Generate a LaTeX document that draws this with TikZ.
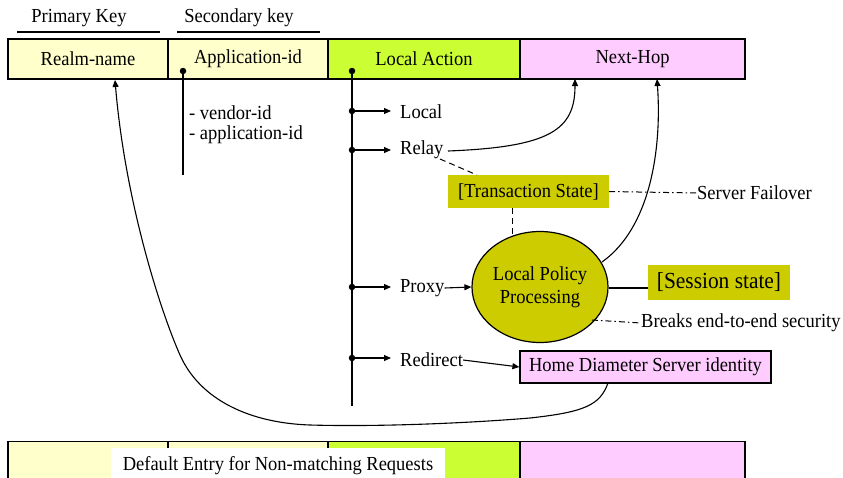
\documentclass[tikz,border=0pt]{standalone}
\usepackage{fontspec}
\setmainfont{Liberation Serif}[FakeStretch=0.93]
\usetikzlibrary{arrows.meta,shapes.geometric}
\definecolor{keyyellow}{HTML}{FFFFCC}
\definecolor{actgreen}{HTML}{CCFF33}
\definecolor{hoppink}{HTML}{FFCCFF}
\definecolor{olive}{HTML}{CCCC00}
\tikzset{
  cell/.style={draw, line width=1.3pt, minimum height=40pt, inner sep=0pt},
  lbl/.style={inner sep=0pt, anchor=west},
  conn/.style={line width=1.1pt},
  arr/.style={conn, -{Triangle[length=7pt,width=6pt]}},
  dashdot/.style={line width=1pt, dash pattern=on 6pt off 3pt on 1.5pt off 3pt},
  dashline/.style={line width=1pt, dash pattern=on 6pt off 4pt},
  statebox/.style={fill=olive, inner sep=0pt},
  dot/.style={circle, fill=black, inner sep=0pt, minimum size=6.5pt},
}
\begin{document}
\begin{tikzpicture}[x=1pt, y=-1pt, font=\fontsize{19.9}{23}\selectfont]
\clip (0,0) rectangle (843,477);
\fill[white] (0,0) rectangle (843,477);

% column headings
\node (pk) at (79,18) {Primary Key};
\node (sk) at (239,18) {Secondary key};
\draw[line width=2.5pt] (17,32) -- (160,32);
\draw[line width=2.5pt] (177,32) -- (320,32);

% routing table row
\node[cell, fill=keyyellow, minimum width=160pt] (realm) at (88,59) {Realm-name};
\node[cell, fill=keyyellow, minimum width=160pt] (appid) at (248,59) {Application-id};
\node[cell, fill=actgreen, minimum width=192pt] (lact) at (424,59) {Local Action};
\node[cell, fill=hoppink, minimum width=225pt] (nhop) at (632.5,59) {Next-Hop};

% application-id branch
\node[dot] (adot) at (183,71) {};
\coordinate (aend) at (183,175);
\draw[conn] (adot.center) -- (aend);
\node[lbl] (vend) at (189,113) {- vendor-id};
\node[lbl] (appl) at (189,135) {- application-id};

% local action branches
\node[dot] (ldot) at (352,71) {};
\coordinate (lend) at (352,406);
\draw[conn] (ldot.center) -- (lend);
\node[dot] (d1) at (352,111) {};
\node[dot] (d2) at (352,150) {};
\node[dot] (d3) at (352,287) {};
\node[dot] (d4) at (352,358) {};
\node[lbl] (local) at (400,112) {Local};
\node[lbl] (relay) at (400,150) {Relay};
\node[lbl] (proxy) at (400,288) {Proxy};
\node[lbl] (redir) at (400,360) {Redirect};
\coordinate (e1) at (391,111);
\coordinate (e2) at (391,150);
\coordinate (e3) at (391,287);
\coordinate (e4) at (391,358);
\draw[arr] (d1.center) -- (e1);
\draw[arr] (d2.center) -- (e2);
\draw[arr] (d3.center) -- (e3);
\draw[arr] (d4.center) -- (e4);

% state boxes and policy processing
\node[statebox, minimum width=161pt, minimum height=33pt] (trans) at (528.5,191.5) {[Transaction State]};
\node[statebox, minimum width=142pt, minimum height=35pt, font=\fontsize{23}{26}\selectfont] (sess) at (719,282) {[Session state]};
\node[ellipse, draw, line width=1.2pt, fill=olive, minimum width=136pt, minimum height=111pt, align=center, inner sep=0pt] (lpp) at (540,287) {Local Policy\\Processing};
\node[cell, fill=hoppink, minimum width=251pt, minimum height=32pt, line width=1.2pt] (hds) at (645.5,367) {Home Diameter Server identity};
\node[lbl] (sfail) at (697,193) {Server Failover};
\node[lbl] (brk) at (641,323) {Breaks end-to-end security};

% connectors
\coordinate (rs) at (448,151);
\coordinate (nh1) at (575,79);
\draw[arr] (rs) .. controls (550,147) and (575,130) .. (nh1);

\coordinate (rdash) at (440,159);
\coordinate (tdash) at (477,175);
\draw[dashline] (rdash) -- (tdash);

\coordinate (tb) at (512,208);
\coordinate (lt) at (512,237);
\draw[dashline] (tb) -- (lt);

\draw[dashdot] (trans.east) -- (sfail.west);

\coordinate (lur) at (602,262);
\coordinate (nh2) at (657,79);
\draw[arr] (lur) .. controls (650,228) and (662,150) .. (nh2);

\draw[arr] (proxy.east) -- (lpp.west);
\coordinate (sessw) at (648,288);
\draw[conn] (lpp.east |- sessw) -- (sessw);

\coordinate (llr) at (592,320);
\draw[dashdot] (llr) -- (brk.west);

\draw[arr] (redir.east) -- (hds.west);

\coordinate (hb) at (608,383);
\coordinate (rn) at (115,80);
\draw[arr] (hb) .. controls (600,405) and (585,412) .. (530,418)
  .. controls (470,423) and (380,427) .. (310,425)
  .. controls (250,423) and (200,400) .. (180,355)
  .. controls (160,310) and (125,200) .. (rn);

% default entry row
\node[cell, fill=keyyellow, minimum width=160pt, anchor=north] (dr) at (88,441) {};
\node[cell, fill=keyyellow, minimum width=160pt, anchor=north] (da) at (248,441) {};
\node[cell, fill=actgreen, minimum width=192pt, anchor=north] (dl) at (424,441) {};
\node[cell, fill=hoppink, minimum width=225pt, anchor=north] (dn) at (632.5,441) {};
\node[fill=white, minimum width=334pt, minimum height=40pt, anchor=north, inner sep=0pt] (dbox) at (278,448) {};
\node (dtext) at (278,466) {Default Entry for Non-matching Requests};
\end{tikzpicture}
\end{document}
